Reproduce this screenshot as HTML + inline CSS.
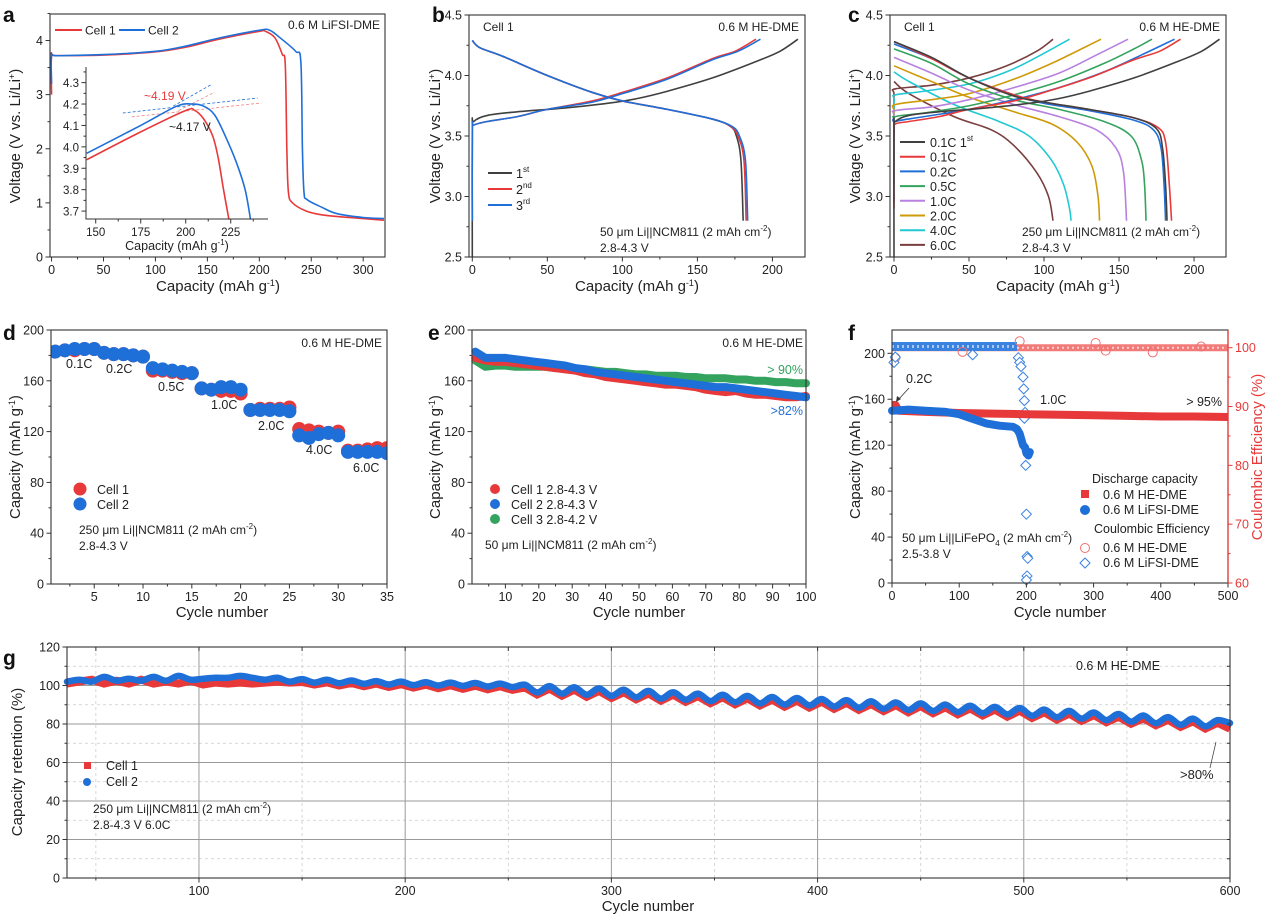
<!DOCTYPE html>
<html><head><meta charset="utf-8"><style>
html,body{margin:0;padding:0;background:#fff;}
svg{display:block;font-family:"Liberation Sans",Arial,sans-serif;}
</style></head><body>
<svg id="fig" width="1269" height="915" viewBox="0 0 1269 915" xmlns="http://www.w3.org/2000/svg"></svg>
<script>
// ---------- DATA ----------
const aCell1 = [[0,3.0],[0,3.72],[5,3.72],[50,3.73],[100,3.79],[130,3.88],[160,4.02],[200,4.17],[206,4.17],[215,4.05],[222,3.75],[225,3.55],[226.5,2.0],[228,1.2],[232,1.0],[245,0.85],[260,0.78],[280,0.74],[320,0.68]];
const aCell2 = [[0,3.2],[0,3.72],[5,3.72],[50,3.74],[100,3.80],[130,3.90],[160,4.04],[200,4.19],[210,4.19],[220,4.05],[235,3.8],[240,3.6],[241.5,2.0],[243,1.2],[246,1.06],[260,0.92],[275,0.8],[300,0.73],[320,0.71]];
const aInset1 = [[145,3.94],[175,4.07],[200,4.17],[205,4.17],[210,4.13],[215,4.05],[218,3.95],[221,3.8],[224,3.66]];
const aInset2 = [[145,3.97],[175,4.10],[195,4.19],[204,4.2],[210,4.19],[216,4.15],[222,4.05],[228,3.93],[233,3.8],[236,3.66]];
const b1Charge = [[0,2.5],[0,3.55],[1,3.62],[10,3.67],[30,3.70],[60,3.73],[90,3.77],[110,3.81],[130,3.87],[160,3.98],[190,4.12],[205,4.2],[217,4.3]];
const b2Charge = [[0,2.8],[0,3.55],[1,3.59],[10,3.62],[30,3.66],[50,3.72],[80,3.79],[100,3.86],[130,3.98],[160,4.14],[175,4.2],[189,4.3]];
const b3Charge = [[0,2.8],[0,3.55],[1,3.59],[10,3.62],[30,3.66],[50,3.72],[80,3.78],[100,3.85],[130,3.97],[160,4.13],[177,4.2],[192,4.3]];
const b1Dis = [[0,4.29],[5,4.23],[20,4.16],[50,4.0],[80,3.86],[100,3.79],[130,3.72],[160,3.64],[172,3.58],[176,3.5],[179,3.3],[180.5,2.8]];
const b2Dis = [[0,4.29],[5,4.23],[20,4.16],[50,4.0],[80,3.86],[100,3.79],[130,3.72],[160,3.64],[172,3.58],[177,3.5],[181,3.3],[182.5,2.8]];
const b3Dis = [[0,4.29],[5,4.23],[20,4.16],[50,4.0],[80,3.86],[100,3.79],[130,3.72],[160,3.64],[173,3.58],[178,3.5],[182,3.3],[183.5,2.8]];
const cLabels = ["0.1C 1st","0.1C","0.2C","0.5C","1.0C","2.0C","4.0C","6.0C"];
const cCharge = [
 [[0,2.5],[0,3.55],[1,3.62],[10,3.67],[30,3.70],[60,3.73],[90,3.77],[110,3.81],[130,3.87],[160,3.98],[190,4.12],[205,4.2],[217,4.3]],
 [[0,2.9],[0,3.55],[1,3.6],[10,3.62],[30,3.66],[50,3.72],[80,3.79],[100,3.86],[130,3.98],[160,4.13],[177,4.2],[191,4.3]],
 [[0,2.95],[0,3.58],[1,3.62],[20,3.66],[50,3.72],[80,3.8],[110,3.9],[140,4.03],[165,4.17],[187,4.3]],
 [[0,3.1],[0,3.6],[1,3.66],[20,3.69],[50,3.75],[80,3.84],[110,3.95],[140,4.1],[160,4.22],[172,4.3]],
 [[0,3.25],[0,3.65],[1,3.71],[25,3.74],[50,3.8],[80,3.9],[110,4.02],[135,4.17],[156,4.3]],
 [[0,3.45],[0,3.7],[1,3.76],[25,3.8],[50,3.85],[80,3.97],[105,4.1],[125,4.22],[138,4.3]],
 [[0,3.6],[0,3.8],[1,3.84],[20,3.87],[50,3.93],[75,4.03],[95,4.15],[117,4.3]],
 [[0,3.7],[0,3.85],[1,3.89],[25,3.92],[50,3.98],[75,4.08],[95,4.2],[106,4.3]]];
const cDischarge = [
 [[0,4.28],[25,4.15],[50,3.98],[80,3.83],[100,3.78],[130,3.72],[160,3.65],[175,3.56],[179,3.4],[181,3.1],[182,2.8]],
 [[0,4.28],[25,4.14],[50,3.98],[80,3.84],[100,3.78],[130,3.72],[160,3.65],[176,3.57],[181,3.45],[183.5,3.1],[185,2.8]],
 [[0,4.26],[25,4.14],[50,3.98],[80,3.84],[100,3.77],[130,3.71],[160,3.63],[173,3.55],[178,3.4],[180,3.1],[181,2.8]],
 [[0,4.22],[25,4.1],[50,3.93],[80,3.8],[110,3.72],[140,3.62],[158,3.5],[165,3.3],[167,3.1],[168,2.8]],
 [[0,4.15],[25,4.02],[50,3.88],[80,3.76],[110,3.66],[135,3.55],[148,3.4],[153,3.2],[155,2.8]],
 [[0,4.08],[25,3.95],[50,3.82],[80,3.7],[105,3.6],[122,3.45],[132,3.25],[136,3.0],[137,2.8]],
 [[0,4.03],[10,3.95],[40,3.76],[70,3.62],[90,3.5],[105,3.3],[113,3.1],[117,2.9],[118,2.8]],
 [[0,3.95],[10,3.85],[40,3.66],[65,3.55],[80,3.42],[95,3.2],[103,3.0],[106,2.8]]];
const dCycles = [1,2,3,4,5,6,7,8,9,10,11,12,13,14,15,16,17,18,19,20,21,22,23,24,25,26,27,28,29,30,31,32,33,34,35];
const dCell1 = [183,184,184,185,185,182,181,181,180,179,168,168,167,166,166,154,153,152,152,150,137,138,138,138,139,122,121,120,119,120,105,105,106,107,107];
const dCell2 = [183,184,185,185,185,182,181,181,180,179,170,169,168,167,166,154,153,155,155,153,137,137,137,137,136,117,115,118,119,117,104,104,104,104,103];
const dRateLabels = ["0.1C","0.2C","0.5C","1.0C","2.0C","4.0C","6.0C"];
const eCycles = [1,4,7,10,13,16,19,22,25,28,31,34,37,40,43,46,49,52,55,58,61,64,67,70,73,76,79,82,85,88,91,94,97,100];
const eCell1 = [178,176,175,175,174,173,172,171,170,169,168,166,165,163,162,161,160,159,158,157,157,156,155,153,152,151,152,150,149,149,148,147,147,148];
const eCell2 = [183,178,178,178,177,176,175,174,173,172,170,169,167,166,165,164,163,162,161,160,159,158,157,156,155,155,154,153,152,151,150,149,148,147];
const eCell3 = [176,171,172,172,171,171,171,171,170,170,169,169,168,167,167,166,165,165,164,164,164,163,163,162,162,162,161,161,160,160,159,159,158,158];
const fHeCycles = [0,5,10,50,100,150,200,250,300,350,400,450,500];
const fHeCap = [155,155,150,149,148,147.5,147,146.5,146,145.5,145,145,144.5];
const fLiCycles = [0,25,50,80,100,120,140,160,180,186,190,193,195,198,200,203,205];
const fLiCap = [150,151,150,149,147,143,139,137,136,134,130,124,120,118,113,111,114];
const fHeCeCycles = [5,105,190,303,318,388,460];
const fHeCe = [98.3,99.3,101.1,100.8,99.5,99.2,100.2];
const fLiCeCycles = [3,5,120,188,190,192,195,196,197,198,197,199,200,201,202,201,200];
const fLiCe = [97.5,98.4,98.8,98.3,97.5,96.8,95,93,91,89,88,80,71.7,64.5,64.2,61.2,60.5];
const gCycles = [36,42,48,54,60,66,72,78,84,90,96,102,108,114,120,126,132,138,144,150,156,162,168,174,180,186,192,198,204,210,216,222,228,234,240,246,252,258,264,270,276,282,288,294,300,306,312,318,324,330,336,342,348,354,360,366,372,378,384,390,396,402,408,414,420,426,432,438,444,450,456,462,468,474,480,486,492,498,504,510,516,522,528,534,540,546,552,558,564,570,576,582,588,594,600];
const gCell2 = [102,103,102,104.5,102.5,103.5,102.5,104.5,102.5,105,103,103.5,104,104,105,104,103,104,102,103.3,101.5,103,101.2,102.6,100.9,102.3,100.5,102,100.2,101.7,100,101.5,99.8,101.3,99.5,101,99.2,100.4,96.4,99.7,95.8,99.1,95.2,98.5,94.6,97.8,93.9,97.2,93.2,96.5,92.6,95.8,91.9,95.2,91.3,94.6,90.7,94,90.1,93.5,89.7,93,89.1,92.4,88.5,91.8,87.9,91.2,87.3,90.7,86.8,90.1,86.2,89.5,85.6,88.9,85,88.3,84.3,87.5,83.5,86.8,82.8,86,82,85.2,81.2,84.4,80.4,83.6,79.6,82.8,78.8,82,80.5];
const gCell1 = [101,102,103,101,102.5,101,103,101,102,101,102.5,100.5,101.5,101,101.5,101,101.5,102,101.5,101.8,100.5,101.6,100,101.3,99.6,101,99.2,100.7,98.9,100.4,98.6,100.1,98.3,99.9,98,99.6,97.7,99,95.3,98.4,94.7,97.8,94.1,97.2,93.5,96.5,92.8,95.9,92.1,95.2,91.5,94.5,90.8,93.9,90.2,93.3,89.6,92.7,89,92.1,88.5,91.6,87.9,91,87.3,90.4,86.7,89.8,86.1,89.3,85.6,88.7,85,88.1,84.4,87.5,83.8,86.9,83.1,86.1,82.3,85.4,81.6,84.6,80.9,83.8,80.1,83,79.3,82.2,78.5,81.4,77.6,80.6,77.5];

// ---------- HELPERS ----------
const NS = "http://www.w3.org/2000/svg";
const svg = document.getElementById("fig");
function mk(tag, attrs, parent){ const e=document.createElementNS(NS,tag); for(const k in attrs) e.setAttribute(k,attrs[k]); (parent||svg).appendChild(e); return e; }
function lin(d0,d1,r0,r1){ return v => r0+(v-d0)*(r1-r0)/(d1-d0); }
function txt(x,y,s,attrs,parent){ const t=mk("text",Object.assign({x:x,y:y,"font-size":12.5,fill:"#222"},attrs||{}),parent); t.textContent=s; return t; }
function smooth(pts){
  if(pts.length<3) return "M"+pts.map(p=>p.join(",")).join("L");
  let d="M"+pts[0][0]+","+pts[0][1];
  for(let i=0;i<pts.length-1;i++){
    const p0=pts[i-1]||pts[i], p1=pts[i], p2=pts[i+1], p3=pts[i+2]||p2;
    const c1=[p1[0]+(p2[0]-p0[0])/6, p1[1]+(p2[1]-p0[1])/6];
    const c2=[p2[0]-(p3[0]-p1[0])/6, p2[1]-(p3[1]-p1[1])/6];
    d+="C"+c1[0].toFixed(2)+","+c1[1].toFixed(2)+" "+c2[0].toFixed(2)+","+c2[1].toFixed(2)+" "+p2[0].toFixed(2)+","+p2[1].toFixed(2);
  }
  return d;
}
function curve(g,data,sx,sy,color,w){ return mk("path",{d:smooth(data.map(q=>[sx(q[0]),sy(q[1])])),fill:"none",stroke:color,"stroke-width":w||1.6,"stroke-linejoin":"round"},g); }
function frame(g,box,color){ return mk("rect",{x:box[0],y:box[1],width:box[2]-box[0],height:box[3]-box[1],fill:"none",stroke:color||"#333","stroke-width":1.1},g); }
function xTicks(g,box,sx,major,minor,fmt,fs){
  major.forEach(v=>{ const x=sx(v); mk("line",{x1:x,x2:x,y1:box[3],y2:box[3]+4.5,stroke:"#333","stroke-width":1},g); const t=txt(x,box[3]+17,fmt?fmt(v):String(v),{"text-anchor":"middle","font-size":fs||12.5},g);   });
  (minor||[]).forEach(v=>{ const x=sx(v); mk("line",{x1:x,x2:x,y1:box[3],y2:box[3]+2.5,stroke:"#333","stroke-width":1},g); });
}
function yTicks(g,box,sy,major,minor,fmt,fs){
  major.forEach(v=>{ const y=sy(v); mk("line",{x1:box[0]-4.5,x2:box[0],y1:y,y2:y,stroke:"#333","stroke-width":1},g); const t=txt(box[0]-7,y+4.5,fmt?fmt(v):String(v),{"text-anchor":"end","font-size":fs||12.5},g);   });
  (minor||[]).forEach(v=>{ const y=sy(v); mk("line",{x1:box[0]-2.5,x2:box[0],y1:y,y2:y,stroke:"#333","stroke-width":1},g); });
}
function rng(a,b,s){ const r=[]; for(let v=a; v<=b+1e-9; v+=s) r.push(Math.round(v*1000)/1000); return r; }
function ytitle(g,x,y,html){ const t=mk("text",{x:0,y:0,transform:"translate("+x+","+y+") rotate(-90)","text-anchor":"middle","font-size":15,fill:"#222"},g); t.innerHTML=html; return t; }
function xtitle(g,x,y,html){ const t=mk("text",{x:x,y:y,"text-anchor":"middle","font-size":15,fill:"#222"},g); t.innerHTML=html; return t; }
function letter(s,x,y){ const t=txt(x,y,s,{"font-size":21,"font-weight":"bold",fill:"#111"});   }
const capT = 'Capacity (mAh g<tspan dy="-5" font-size="9">-1</tspan><tspan dy="5">)</tspan>';
const voltT = 'Voltage (V vs. Li/Li<tspan dy="-5" font-size="9">+</tspan><tspan dy="5">)</tspan>';
const RED="#e8393a", BLUE="#1f6fd8", BLACK="#404040", GREEN="#33a35e";

// ---------- PANEL A ----------
{
const g=mk("g",{});  
const box=[50,14,385,257]; const sx=lin(-1.5,321,box[0],box[2]); const sy=lin(0,4.49,box[3],box[1]);
curve(g,aCell1,sx,sy,RED);
curve(g,aCell2,sx,sy,BLUE);
frame(g,box);
xTicks(g,box,sx,rng(0,300,50),rng(25,300,50)); yTicks(g,box,sy,rng(0,4,1),rng(0.5,4.5,1));
xtitle(g,218,291,capT); ytitle(g,20,136,voltT);
mk("line",{x1:55,x2:82,y1:30,y2:30,stroke:RED,"stroke-width":2},g); txt(85,34.5,"Cell 1",{"font-size":12},g);
mk("line",{x1:119,x2:145,y1:30,y2:30,stroke:BLUE,"stroke-width":2},g); txt(148,34.5,"Cell 2",{"font-size":12},g);
txt(380,29,"0.6 M LiFSI-DME",{"text-anchor":"end","font-size":12},g);
const ib=[86,67,268,219]; const ix=lin(144.6,245.7,ib[0],ib[2]); const iy=lin(3.663,4.373,ib[3],ib[1]);
const ig=mk("g",{},g);  
mk("line",{x1:ix(165),y1:iy(4.158),x2:ix(240),y2:iy(4.228),stroke:BLUE,"stroke-dasharray":"3,2","stroke-width":0.8},ig);
mk("line",{x1:ix(193),y1:iy(4.19),x2:ix(214),y2:iy(4.29),stroke:BLUE,"stroke-dasharray":"3,2","stroke-width":0.8},ig);
mk("line",{x1:ix(170),y1:iy(4.14),x2:ix(242),y2:iy(4.205),stroke:"#f08080","stroke-dasharray":"3,2","stroke-width":0.8},ig);
mk("line",{x1:ix(196),y1:iy(4.17),x2:ix(216),y2:iy(4.255),stroke:"#f08080","stroke-dasharray":"3,2","stroke-width":0.8},ig);
curve(ig,aInset1,ix,iy,RED);
curve(ig,aInset2,ix,iy,BLUE);
mk("path",{d:"M"+ib[0]+","+ib[1]+"V"+ib[3]+"H"+ib[2],fill:"none",stroke:"#333","stroke-width":1},ig);
xTicks(ig,ib,ix,rng(150,225,25),rng(162.5,237.5,25),null,11.5);
yTicks(ig,ib,iy,rng(3.7,4.3,0.1),rng(3.75,4.35,0.1),v=>v.toFixed(1),11.5);
xtitle(ig,177,250,'<tspan font-size="12.5">Capacity (mAh g</tspan><tspan dy="-5" font-size="8">-1</tspan><tspan dy="5" font-size="12.5">)</tspan>');
txt(144,100,"~4.19 V",{fill:RED,"font-size":12},ig);
txt(169,131,"~4.17 V",{"font-size":12},ig);
}
// ---------- PANEL B ----------
{
const g=mk("g",{});  
const box=[469,15,805,257]; const sx=lin(-2.2,221.7,box[0],box[2]); const sy=lin(2.5,4.5,box[3],box[1]);
[[b1Charge,b1Dis,BLACK],[b2Charge,b2Dis,RED],[b3Charge,b3Dis,BLUE]].forEach((s,i)=>{
  const c=curve(g,s[0],sx,sy,s[2]); 
  const d=curve(g,s[1],sx,sy,s[2]); 
});
frame(g,box);
xTicks(g,box,sx,rng(0,200,50),rng(25,200,50)); yTicks(g,box,sy,rng(2.5,4.5,0.5),rng(2.75,4.5,0.5),v=>v.toFixed(1));
xtitle(g,637,291,capT); ytitle(g,440,136,voltT);
txt(483,31,"Cell 1",{"font-size":12},g);
txt(799,31,"0.6 M HE-DME",{"text-anchor":"end","font-size":12},g);
const lab=[["1","st"],["2","nd"],["3","rd"]]; const cols=[BLACK,RED,BLUE];
lab.forEach((l,i)=>{ const y=173+i*16; mk("line",{x1:488,x2:512,y1:y,y2:y,stroke:cols[i],"stroke-width":2},g);
  const t=mk("text",{x:516,y:y+5,"font-size":12.5,fill:"#222"},g); t.innerHTML=l[0]+'<tspan dy="-6" font-size="8">'+l[1]+'</tspan>';
    });
const t1=mk("text",{x:600,y:236,"font-size":12,fill:"#222"},g); t1.innerHTML='50 μm Li||NCM811 (2 mAh cm<tspan dy="-5" font-size="8">-2</tspan><tspan dy="5">)</tspan>';
txt(600,252,"2.8-4.3 V",{"font-size":12},g);
}
// ---------- PANEL C ----------
{
const g=mk("g",{});  
const box=[890,15,1226,257]; const sx=lin(-2.67,221.3,box[0],box[2]); const sy=lin(2.5,4.5,box[3],box[1]);
const cols=[BLACK,RED,BLUE,GREEN,"#b880e0","#cf9a0a","#22c8d2","#7a3e3e"];
for(let i=cLabels.length-1;i>=0;i--){
  const c=curve(g,cCharge[i],sx,sy,cols[i]); 
  const d=curve(g,cDischarge[i],sx,sy,cols[i]); 
}
frame(g,box);
xTicks(g,box,sx,rng(0,200,50),rng(25,200,50)); yTicks(g,box,sy,rng(2.5,4.5,0.5),rng(2.75,4.5,0.5),v=>v.toFixed(1));
xtitle(g,1058,291,capT); ytitle(g,860,136,voltT);
txt(904,31,"Cell 1",{"font-size":12},g);
txt(1220,31,"0.6 M HE-DME",{"text-anchor":"end","font-size":12},g);
cLabels.forEach((l,i)=>{ const y=142+i*14.7; mk("line",{x1:900,x2:925,y1:y,y2:y,stroke:cols[i],"stroke-width":2},g);
  const t=mk("text",{x:930,y:y+5,"font-size":12.5,fill:"#222"},g);
  t.innerHTML = i===0 ? '0.1C 1<tspan dy="-6" font-size="8">st</tspan>' : l;
    });
const t1=mk("text",{x:1022,y:236,"font-size":12,fill:"#222"},g); t1.innerHTML='250 μm Li||NCM811 (2 mAh cm<tspan dy="-5" font-size="8">-2</tspan><tspan dy="5">)</tspan>';
txt(1022,252,"2.8-4.3 V",{"font-size":12},g);
}
// ---------- PANEL D ----------
{
const g=mk("g",{});  
const box=[51,330,387,584]; const sx=lin(0.57,35,box[0],box[2]); const sy=lin(0,200,box[3],box[1]);
const cp=mk("clipPath",{id:"clipd"},g); mk("rect",{x:box[0],y:box[1]-10,width:box[2]-box[0],height:box[3]-box[1]+10},cp);
const cg=mk("g",{"clip-path":"url(#clipd)"},g);
dCycles.forEach((c,i)=>{ const p=mk("circle",{cx:sx(c),cy:sy(dCell1[i]),r:7,fill:RED},cg);
    });
dCycles.forEach((c,i)=>{ const p=mk("circle",{cx:sx(c),cy:sy(dCell2[i]),r:7,fill:BLUE},cg);
    });
frame(g,box);
xTicks(g,box,sx,rng(5,35,5),rng(2.5,35,5)); yTicks(g,box,sy,rng(0,200,40),rng(20,200,40));
xtitle(g,222,617,"Cycle number"); ytitle(g,20,457,capT);
txt(382,347,"0.6 M HE-DME",{"text-anchor":"end","font-size":12},g);
const lp=[[66,368],[106,373],[158,391],[211,409],[258,430],[306,454],[353,472]];
dRateLabels.forEach((l,i)=>{ const t=txt(lp[i][0],lp[i][1],l,{"font-size":12.5},g);  });
mk("circle",{cx:80,cy:489,r:6.5,fill:RED},g); txt(97,494,"Cell 1",{"font-size":12.5},g);
mk("circle",{cx:80,cy:504,r:6.5,fill:BLUE},g); txt(97,509,"Cell 2",{"font-size":12.5},g);
const t1=mk("text",{x:79,y:534,"font-size":12,fill:"#222"},g); t1.innerHTML='250 μm Li||NCM811 (2 mAh cm<tspan dy="-5" font-size="8">-2</tspan><tspan dy="5">)</tspan>';
txt(79,550,"2.8-4.3 V",{"font-size":12},g);
}
// ---------- PANEL E ----------
{
const g=mk("g",{});  
const box=[472,330,806,584]; const sx=lin(0,100,box[0],box[2]); const sy=lin(0,200,box[3],box[1]);
[[eCell3,GREEN,'cell3'],[eCell1,RED,'cell1'],[eCell2,BLUE,'cell2']].forEach(s=>{
  const pts=eCycles.map((c,i)=>sx(c).toFixed(1)+","+sy(s[0][i]).toFixed(1)).join(" ");
  const p=mk("polyline",{points:pts,fill:"none",stroke:s[1],"stroke-width":8,"stroke-linejoin":"round","stroke-linecap":"round"},g);
   
});
frame(g,box);
xTicks(g,box,sx,rng(10,100,10),rng(5,100,10)); yTicks(g,box,sy,rng(0,200,40),rng(20,200,40));
xtitle(g,639,617,"Cycle number"); ytitle(g,440,457,capT);
txt(803,347,"0.6 M HE-DME",{"text-anchor":"end","font-size":12},g);
txt(803,374,"> 90%",{"text-anchor":"end","font-size":12.5,fill:GREEN},g);
txt(803,415,">82%",{"text-anchor":"end","font-size":12.5,fill:BLUE},g);
[["Cell 1 2.8-4.3 V",RED],["Cell 2 2.8-4.3 V",BLUE],["Cell 3 2.8-4.2 V",GREEN]].forEach((l,i)=>{
  const y=489+i*15; mk("circle",{cx:495,cy:y,r:5,fill:l[1]},g); const t=txt(511,y+5,l[0],{"font-size":12.5},g);
   });
const t1=mk("text",{x:485,y:549,"font-size":12,fill:"#222"},g); t1.innerHTML='50 μm Li||NCM811 (2 mAh cm<tspan dy="-5" font-size="8">-2</tspan><tspan dy="5">)</tspan>';
}
// ---------- PANEL F ----------
{
const g=mk("g",{});  
const box=[892,330,1228,583]; const sx=lin(0,500,box[0],box[2]); const sy=lin(0,200,box[3],353.3); const sr=lin(60,100,box[3],347.7);
mk("line",{x1:sx(0),x2:sx(500),y1:sr(100),y2:sr(100),stroke:"#f27a78","stroke-width":7},g);
mk("line",{x1:sx(0),x2:sx(500),y1:sr(100),y2:sr(100),stroke:"#fbd0cf","stroke-width":2,"stroke-dasharray":"2,3"},g);
mk("line",{x1:sx(0),x2:sx(186),y1:sr(100.2),y2:sr(100.2),stroke:"#3a82e0","stroke-width":9},g);
mk("line",{x1:sx(0),x2:sx(186),y1:sr(100.2),y2:sr(100.2),stroke:"#a9c9f2","stroke-width":3,"stroke-dasharray":"2,3"},g);
fHeCeCycles.forEach((c,i)=>{ const p=mk("circle",{cx:sx(c),cy:sr(fHeCe[i]),r:4.5,fill:"none",stroke:"#f07070","stroke-width":1},g);   });
fLiCeCycles.forEach((c,i)=>{ const x=sx(c),y=sr(fLiCe[i]); const p=mk("path",{d:"M"+x+","+(y-5)+"L"+(x+5)+","+y+"L"+x+","+(y+5)+"L"+(x-5)+","+y+"Z",fill:"#fff",stroke:"#3a82e0","stroke-width":1},g);   });
const hp=fHeCycles.map((c,i)=>sx(c).toFixed(1)+","+sy(fHeCap[i]).toFixed(1)).join(" ");
mk("polyline",{points:hp,fill:"none",stroke:RED,"stroke-width":8,"stroke-linejoin":"round"},g);
const lp=fLiCycles.map((c,i)=>sx(c).toFixed(1)+","+sy(fLiCap[i]).toFixed(1)).join(" ");
mk("polyline",{points:lp,fill:"none",stroke:BLUE,"stroke-width":8,"stroke-linejoin":"round","stroke-linecap":"round"},g);
frame(g,box);
mk("line",{x1:box[2],x2:box[2],y1:box[1],y2:box[3],stroke:RED,"stroke-width":1.3},g);
xTicks(g,box,sx,rng(0,500,100),rng(50,500,100)); yTicks(g,box,sy,rng(0,200,40),rng(20,200,40));
rng(60,100,10).forEach(v=>{ const y=sr(v); mk("line",{x1:box[2],x2:box[2]+4.5,y1:y,y2:y,stroke:RED},g); const t=txt(box[2]+7,y+4.5,String(v),{fill:RED,"font-size":12.5},g);  });
rng(65,95,10).forEach(v=>{ const y=sr(v); mk("line",{x1:box[2],x2:box[2]+2.5,y1:y,y2:y,stroke:RED},g); });
xtitle(g,1060,617,"Cycle number"); ytitle(g,860,457,capT);
const rt=ytitle(g,1262,457,"Coulombic Efficiency (%)"); rt.setAttribute("fill",RED); 
txt(906,383,"0.2C",{"font-size":12.5},g);
mk("line",{x1:909,y1:388,x2:898,y2:400,stroke:"#333","stroke-width":0.8},g);
mk("path",{d:"M896,402 L897,396 L901,399 Z",fill:"#333"},g);
txt(1040,404,"1.0C",{"font-size":12.5},g);
txt(1222,406,"> 95%",{"text-anchor":"end","font-size":12.5},g);
txt(1092,483,"Discharge capacity",{"font-size":12.5},g);
mk("rect",{x:1081,y:490,width:8,height:8,fill:RED},g); txt(1103,499,"0.6 M HE-DME",{"font-size":12.5},g);
mk("circle",{cx:1085,cy:510,r:5,fill:BLUE},g); txt(1103,514,"0.6 M LiFSI-DME",{"font-size":12.5},g);
txt(1094,533,"Coulombic Efficiency",{"font-size":12.5},g);
mk("circle",{cx:1085,cy:548,r:4.5,fill:"none",stroke:"#f07070"},g); txt(1103,552,"0.6 M HE-DME",{"font-size":12.5},g);
mk("path",{d:"M1085,558L1090,563L1085,568L1080,563Z",fill:"none",stroke:"#3a82e0"},g); txt(1103,567,"0.6 M LiFSI-DME",{"font-size":12.5},g);
const t1=mk("text",{x:902,y:542,"font-size":12,fill:"#222"},g); t1.innerHTML='50 μm Li||LiFePO<tspan dy="4" font-size="8">4</tspan><tspan dy="-4"> (2 mAh cm</tspan><tspan dy="-5" font-size="8">-2</tspan><tspan dy="5">)</tspan>';
txt(902,558,"2.5-3.8 V",{"font-size":12},g);
}
// ---------- PANEL G ----------
{
const g=mk("g",{});  
const box=[67,647,1230,878]; const sx=lin(36,600,box[0],box[2]); const sy=lin(0,120,box[3],box[1]);
rng(10,110,20).forEach(v=>mk("line",{x1:box[0],x2:box[2],y1:sy(v),y2:sy(v),stroke:"#ccc","stroke-dasharray":"3,3","stroke-width":0.8},g));
rng(50,550,100).forEach(v=>mk("line",{x1:sx(v),x2:sx(v),y1:box[1],y2:box[3],stroke:"#ccc","stroke-dasharray":"3,3","stroke-width":0.8},g));
rng(20,100,20).forEach(v=>mk("line",{x1:box[0],x2:box[2],y1:sy(v),y2:sy(v),stroke:"#9a9a9a","stroke-width":1},g));
rng(100,500,100).forEach(v=>mk("line",{x1:sx(v),x2:sx(v),y1:box[1],y2:box[3],stroke:"#9a9a9a","stroke-width":1},g));
const p1=gCycles.map((c,i)=>sx(c).toFixed(1)+","+sy(gCell1[i]).toFixed(1)).join(" ");
mk("polyline",{points:p1,fill:"none",stroke:RED,"stroke-width":8,"stroke-linejoin":"miter"},g);
const c2=curve(g,gCycles.map((c,i)=>[c,gCell2[i]]),sx,sy,BLUE,6.5); c2.setAttribute("stroke-linecap","round");

frame(g,box);
xTicks(g,box,sx,rng(100,600,100),rng(50,550,100)); yTicks(g,box,sy,rng(0,120,20),rng(10,110,20));
rng(10,110,10).forEach(v=>mk("line",{x1:box[2]-3,x2:box[2],y1:sy(v),y2:sy(v),stroke:"#333"},g));
rng(50,550,50).forEach(v=>mk("line",{x1:sx(v),x2:sx(v),y1:box[1],y2:box[1]+4,stroke:"#333"},g));
xtitle(g,648,911,"Cycle number"); ytitle(g,22,762,"Capacity retention (%)");
txt(1076,670,"0.6 M HE-DME",{"font-size":12.5},g);
mk("rect",{x:84,y:762,width:7,height:7,fill:RED},g); txt(106,770,"Cell 1",{"font-size":12.5},g);
mk("circle",{cx:87,cy:782,r:4,fill:BLUE},g); txt(106,786,"Cell 2",{"font-size":12.5},g);
const t1=mk("text",{x:93,y:813,"font-size":12,fill:"#222"},g); t1.innerHTML='250 μm Li||NCM811 (2 mAh cm<tspan dy="-5" font-size="8">-2</tspan><tspan dy="5">)</tspan>';
txt(93,829,"2.8-4.3 V 6.0C",{"font-size":12},g);
mk("line",{x1:1210,y1:768,x2:1216,y2:742,stroke:"#333","stroke-width":0.7},g);
txt(1180,779,">80%",{"font-size":13},g);
}
letter("a",3,22); letter("b",432,22); letter("c",848,22); letter("d",3,340); letter("e",428,340); letter("f",848,340); letter("g",3,665);
</script>
</body></html>
